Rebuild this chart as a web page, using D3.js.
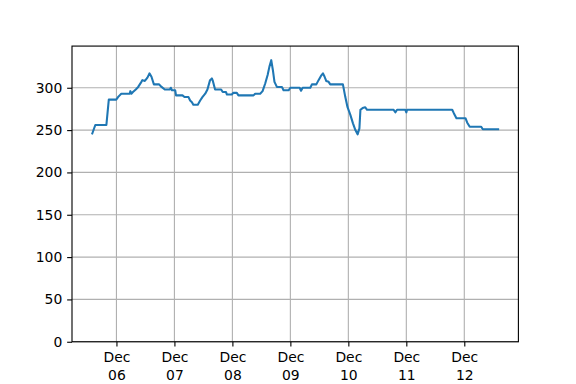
<!DOCTYPE html>
<html>
<head>
<meta charset="utf-8">
<script src="https://cdn.jsdelivr.net/npm/d3@7"></script>
<style>
  html, body { margin: 0; padding: 0; background: #fff; }
  svg { display: block; }
  text { font-family: "DejaVu Sans", sans-serif; font-size: 13.9px; fill: #000; }
</style>
</head>
<body>
<svg id="chart" width="576" height="384"></svg>
<script>
const times = [
  "2023-12-05 14:00", "2023-12-05 15:15", "2023-12-05 19:50", "2023-12-05 20:50", "2023-12-05 23:55",
  "2023-12-06 00:40", "2023-12-06 01:20", "2023-12-06 02:00", "2023-12-06 05:30", "2023-12-06 05:45",
  "2023-12-06 06:10", "2023-12-06 06:50", "2023-12-06 08:00", "2023-12-06 09:00", "2023-12-06 10:20",
  "2023-12-06 10:45", "2023-12-06 11:45", "2023-12-06 12:50", "2023-12-06 13:40", "2023-12-06 14:30",
  "2023-12-06 15:30", "2023-12-06 17:40", "2023-12-06 18:40", "2023-12-06 20:00", "2023-12-06 22:05",
  "2023-12-06 22:30", "2023-12-06 23:00", "2023-12-07 00:20", "2023-12-07 00:40", "2023-12-07 03:20",
  "2023-12-07 04:10", "2023-12-07 05:50", "2023-12-07 06:30", "2023-12-07 07:15", "2023-12-07 07:50",
  "2023-12-07 09:40", "2023-12-07 10:40", "2023-12-07 11:35", "2023-12-07 12:45", "2023-12-07 13:40",
  "2023-12-07 14:45", "2023-12-07 15:30", "2023-12-07 15:55", "2023-12-07 16:50", "2023-12-07 19:20",
  "2023-12-07 20:00", "2023-12-07 21:20", "2023-12-07 21:45", "2023-12-07 23:45", "2023-12-08 00:25",
  "2023-12-08 01:50", "2023-12-08 02:30", "2023-12-08 08:45", "2023-12-08 09:25", "2023-12-08 11:30",
  "2023-12-08 12:30", "2023-12-08 13:35", "2023-12-08 14:35", "2023-12-08 15:20", "2023-12-08 16:05",
  "2023-12-08 16:45", "2023-12-08 17:25", "2023-12-08 18:25", "2023-12-08 20:30", "2023-12-08 21:10",
  "2023-12-08 23:15", "2023-12-09 00:00", "2023-12-09 03:50", "2023-12-09 04:25", "2023-12-09 05:05",
  "2023-12-09 08:15", "2023-12-09 08:55", "2023-12-09 10:45", "2023-12-09 11:40", "2023-12-09 12:40",
  "2023-12-09 13:30", "2023-12-09 14:10", "2023-12-09 14:50", "2023-12-09 15:50", "2023-12-09 16:30",
  "2023-12-09 21:45", "2023-12-09 22:45", "2023-12-09 23:40", "2023-12-10 00:50", "2023-12-10 01:55",
  "2023-12-10 02:55", "2023-12-10 03:50", "2023-12-10 04:35", "2023-12-10 05:00", "2023-12-10 05:55",
  "2023-12-10 07:00", "2023-12-10 07:45", "2023-12-10 18:45", "2023-12-10 19:30", "2023-12-10 20:10",
  "2023-12-10 23:35", "2023-12-11 00:00", "2023-12-11 00:20", "2023-12-11 19:00", "2023-12-11 19:40",
  "2023-12-11 20:45", "2023-12-12 00:30", "2023-12-12 01:10", "2023-12-12 02:15", "2023-12-12 07:00",
  "2023-12-12 07:40", "2023-12-12 14:00"
];
const values = [
  246, 256, 256, 286, 286,
  289, 291, 293, 293, 296,
  293, 295, 298, 301, 307,
  309, 308, 312, 317, 313,
  304, 304, 301, 298, 298,
  300, 297, 297, 291, 291,
  289, 289, 285, 283, 280,
  280, 285, 289, 293, 298,
  309, 311, 308, 298, 298,
  295, 295, 292, 292, 294,
  294, 291, 291, 293, 293,
  296, 305, 315, 325, 332.6,
  321, 307, 301, 301, 297,
  297, 300, 300, 296.5, 300,
  300, 304, 304, 309, 314,
  317, 313, 308, 307, 304,
  304, 289, 277, 268, 258,
  250, 245, 252, 274, 276,
  277, 274, 274, 271, 274,
  274, 271, 274, 274, 270,
  264, 264, 259, 254, 254,
  251, 251
];
const xTickDates = ["2023-12-06", "2023-12-07", "2023-12-08", "2023-12-09", "2023-12-10", "2023-12-11", "2023-12-12"];
const yTicks = [0, 50, 100, 150, 200, 250, 300];

const parseT = d3.utcParse("%Y-%m-%d %H:%M");
const parseD = d3.utcParse("%Y-%m-%d");
const data = times.map((t, i) => ({ t: parseT(t), v: values[i] }));

const m = { left: 72, right: 518.4, top: 46.08, bottom: 341.76 };
const svg = d3.select("#chart");
const TICK = 4.86, PAD = 4.86, LW = 1.11;

const [t0, t1] = d3.extent(data, d => d.t);
const pad = (t1 - t0) * 0.05;
const x = d3.scaleUtc().domain([new Date(+t0 - pad), new Date(+t1 + pad)]).range([m.left, m.right]);
const vmax = d3.max(values);
const y = d3.scaleLinear().domain([0, vmax * 1.05]).range([m.bottom, m.top]);

const xt = xTickDates.map(parseD);

// grid
const grid = svg.append("g");
grid.selectAll("line.gx").data(xt).join("line")
  .attr("x1", d => x(d)).attr("x2", d => x(d))
  .attr("y1", m.top).attr("y2", m.bottom)
  .attr("stroke", "#b0b0b0").attr("stroke-width", LW);
grid.selectAll("line.gy").data(yTicks).join("line")
  .attr("x1", m.left).attr("x2", m.right)
  .attr("y1", d => y(d)).attr("y2", d => y(d))
  .attr("stroke", "#b0b0b0").attr("stroke-width", LW);

// line
const line = d3.line().x(d => x(d.t)).y(d => y(d.v));
svg.append("path").datum(data)
  .attr("d", line)
  .attr("fill", "none")
  .attr("stroke", "#1f77b4")
  .attr("stroke-width", 2.08)
  .attr("stroke-linejoin", "round")
  .attr("stroke-linecap", "square");

// axes
const xAxis = d3.axisBottom(x).tickValues(xt).tickSize(TICK).tickPadding(PAD).tickFormat("");
const gx = svg.append("g").attr("transform", `translate(0,${m.bottom})`).call(xAxis);
gx.select(".domain").remove();
gx.selectAll(".tick line").attr("stroke", "#000").attr("stroke-width", LW);
const fmtM = d3.utcFormat("%b"), fmtD = d3.utcFormat("%d");
gx.selectAll(".tick").each(function(d) {
  const g = d3.select(this);
  g.select("text").remove();
  const tx = g.append("text").attr("text-anchor", "middle").attr("y", TICK + PAD);
  tx.append("tspan").attr("x", 0).attr("dy", "0.76em").text(fmtM(d));
  tx.append("tspan").attr("x", 0).attr("dy", "1.3em").text(fmtD(d));
});

const yAxis = d3.axisLeft(y).tickValues(yTicks).tickSize(TICK).tickPadding(PAD);
const gy = svg.append("g").attr("transform", `translate(${m.left},0)`).call(yAxis);
gy.select(".domain").remove();
gy.selectAll(".tick line").attr("stroke", "#000").attr("stroke-width", LW);
gy.selectAll(".tick text").attr("font-size", 13.9).attr("font-family", "DejaVu Sans, sans-serif").attr("fill", "#000");

// frame
svg.append("rect")
  .attr("x", m.left).attr("y", m.top)
  .attr("width", m.right - m.left).attr("height", m.bottom - m.top)
  .attr("fill", "none").attr("stroke", "#000").attr("stroke-width", LW);
</script>
</body>
</html>
